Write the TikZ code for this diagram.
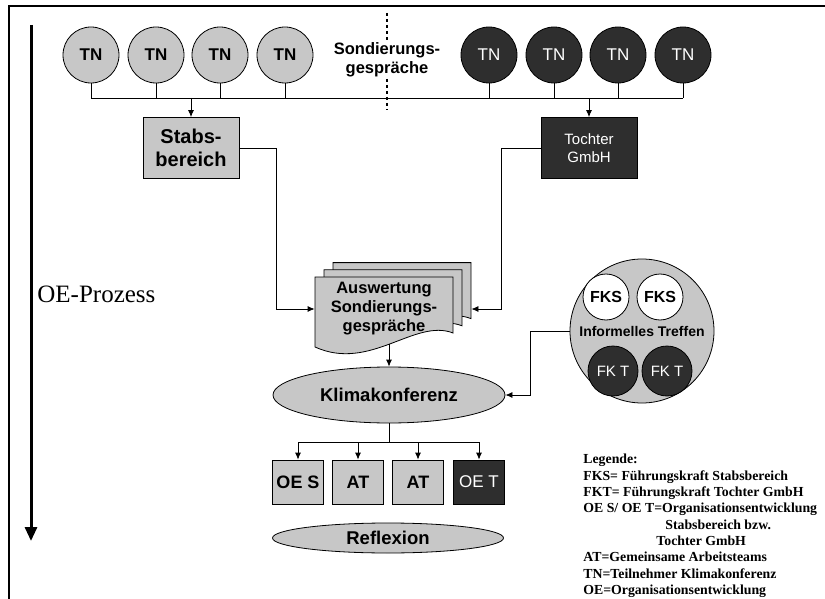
\documentclass[tikz,border=0pt]{standalone}
\usepackage{fontspec}
\setmainfont{Liberation Serif}
\setsansfont{Liberation Sans}
\usetikzlibrary{shapes.geometric,arrows.meta}

\def\xunit{1pt}
\def\yunit{-1pt}
\newcommand\fsz[2]{\fontsize{#1}{#2}\selectfont}

\begin{document}
\begin{tikzpicture}[x=\xunit, y=\yunit, line width=0.8pt, font=\sffamily,
  >={Latex[length=7pt,width=6pt]},
  light/.style={draw, fill=black!22},
  dark/.style={draw, fill=black!82, text=white},
  tnS/.style={circle, light, minimum size=56pt, inner sep=0pt, font=\sffamily\bfseries\fsz{17}{20}},
  tnT/.style={circle, dark, minimum size=56pt, inner sep=0pt, font=\sffamily\fsz{17}{20}},
  unit/.style={rectangle, minimum width=96pt, minimum height=61pt, inner sep=0pt, align=center},
  team/.style={rectangle, minimum width=51pt, minimum height=44pt, inner sep=0pt},
  oval/.style={ellipse, light, inner sep=1pt, font=\sffamily\bfseries\fsz{18.5}{21}},
  fk/.style={circle, inner sep=0pt}]

\useasboundingbox (0,0) rectangle (825,599);

% ---- frame and process arrow ----
\draw[line width=1.3pt] (9,599) -- (9,6) -- (825,6);
\coordinate (oeTop) at (31,25);
\coordinate (oeEnd) at (31,541);
\draw[line width=3pt, -{Triangle[length=14pt,width=12pt]}] (oeTop) -- (oeEnd);
\node[anchor=base west, inner sep=0pt, font=\rmfamily\fsz{25}{28}] (oe) at (37,302) {OE-Prozess};

% ---- Sondierungsgespraeche: TN circles, bus at y=98 ----
\coordinate (bus) at (0,98);
\draw[dashed, line width=1.2pt] (387,13) -- (387,110);
\node[fill=white, inner sep=1pt, align=center, font=\sffamily\bfseries\fsz{16.5}{19}] (sond) at (387,60) {Sondierungs-\\gespräche};
\foreach \i/\x in {1/91,2/156,3/220,4/285}
  \node[tnS] (tn\i) at (\x,55) {TN};
\foreach \i/\x in {5/489,6/554,7/618,8/683}
  \node[tnT] (tn\i) at (\x,55) {TN};
\foreach \i in {1,...,8}
  \draw (tn\i.south) -- (tn\i.south |- bus);
\draw (tn1.south |- bus) -- (tn8.south |- bus);

% ---- Stabsbereich / Tochter GmbH ----
\node[unit, light, font=\sffamily\bfseries\fsz{20}{23}] (stabs) at (191,148) {Stabs-\\bereich};
\node[unit, dark, font=\sffamily\fsz{15}{18}] (tochter) at (589,148) {Tochter\\GmbH};
\draw[->] (stabs.north |- bus) -- (stabs.north);
\draw[->] (tochter.north |- bus) -- (tochter.north);

% ---- Auswertung: stacked pages ----
\foreach \s in {18,9,0}
  \draw[light, shift={(\s,-\s*0.8)}] (315,277) -- (453,277) -- (453,333)
    .. controls (415,318) and (370,372) .. (315,347) -- cycle;
\node[minimum width=138pt, minimum height=70pt, inner sep=0pt, align=center,
  font=\sffamily\bfseries\fsz{16.5}{19}] (ausw) at (384,309) {Auswertung\\Sondierungs-\\gespräche};
\coordinate (auswR) at ([xshift=18pt]ausw.east);
\draw[->] (stabs.east) -- ++(37,0) |- (ausw.west);
\draw[->] (tochter.west) -- ++(-39,0) |- (auswR);

% ---- Klimakonferenz ----
\node[oval, minimum width=232pt, minimum height=56pt] (klima) at (389,395) {Klimakonferenz};
\draw[->] (ausw.south -| klima.north) -- (klima.north);

% ---- Informelles Treffen ----
\node[circle, light, minimum size=144pt, inner sep=0pt, font=\sffamily\bfseries\fsz{14}{16}] (treffen) at (642,331) {Informelles Treffen};
\node[fk, draw, fill=white, minimum size=46pt, font=\sffamily\bfseries\fsz{16}{18}] (fks1) at (606,297) {FKS};
\node[fk, draw, fill=white, minimum size=46pt, font=\sffamily\bfseries\fsz{16}{18}] (fks2) at (660,297) {FKS};
\node[fk, dark, minimum size=50pt, font=\sffamily\fsz{15}{17}] (fkt1) at (613,371) {FK T};
\node[fk, dark, minimum size=50pt, font=\sffamily\fsz{15}{17}] (fkt2) at (667,371) {FK T};
\draw[->] (treffen.west) -- ++(-39,0) |- (klima.east);

% ---- teams, bus at y=442 ----
\coordinate (kbus) at (0,442);
\node[team, light, font=\sffamily\bfseries\fsz{18}{20}] (box1) at (298,482) {OE S};
\node[team, light, font=\sffamily\bfseries\fsz{18}{20}] (box2) at (358,482) {AT};
\node[team, light, font=\sffamily\bfseries\fsz{18}{20}] (box3) at (418,482) {AT};
\node[team, dark, font=\sffamily\fsz{17}{20}] (box4) at (479,482) {OE T};
\draw (klima.south) -- (klima.south |- kbus);
\draw (box1.north |- kbus) -- (box4.north |- kbus);
\foreach \i in {1,...,4}
  \draw[->] (box\i.north |- kbus) -- (box\i.north);

% ---- Reflexion ----
\node[oval, minimum width=231pt, minimum height=30pt] (reflex) at (388,538) {Reflexion};

% ---- legend ----
\node[anchor=north west, align=left, inner sep=0pt, font=\rmfamily\bfseries\fsz{13.8}{16.3}] (legende) at (583,454)
  {Legende:\\
   FKS= Führungskraft Stabsbereich\\
   FKT= Führungskraft Tochter GmbH\\
   OE S/ OE T=Organisationsentwicklung\\
   \hspace*{82pt}Stabsbereich bzw.\\
   \hspace*{73pt}Tochter GmbH\\
   AT=Gemeinsame Arbeitsteams\\
   TN=Teilnehmer Klimakonferenz\\
   OE=Organisationsentwicklung};

\end{tikzpicture}
\end{document}
